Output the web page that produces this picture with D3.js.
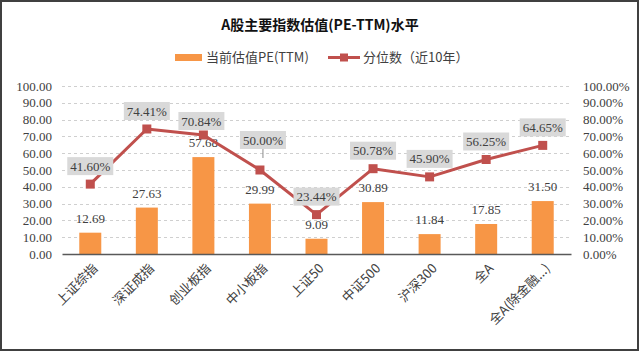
<!DOCTYPE html>
<html>
<head>
<meta charset="utf-8">
<script src="https://cdn.jsdelivr.net/npm/d3@7"></script>
<style>
  body { margin: 0; background: #fff; }
  svg { display: block; }
</style>
</head>
<body>
<div id="container"></div>
<script>
// data
let categories = ['上证综指', '深证成指', '创业板指', '中小板指', '上证50', '中证500', '沪深300', '全A', '全A(除金融...)'];
let peValues = [12.69, 27.63, 57.68, 29.99, 9.09, 30.89, 11.84, 17.85, 31.50];
let pctValues = [41.60, 74.41, 70.84, 50.00, 23.44, 50.78, 45.90, 56.25, 64.65];
let yTicks = [0, 10, 20, 30, 40, 50, 60, 70, 80, 90, 100];

// small nudges for the percent labels (how the original lays them out)
let pctLabelDy = [-18, -18, -14, -30, -18, -18, -18, -18, -18];
let pctLabelDx = [0, 0, -2, 3, 0, 0, 0, 0, 0];

let w = 640;
let h = 352;
let plotLeft = 62, plotRight = 571, plotTop = 86, plotBottom = 254;

let BAR = '#f79646';
let LINE = '#c0504d';
let NUMFONT = '"Liberation Serif", serif';
let CJKFONT = '"Noto Sans CJK SC", sans-serif';

let viz = d3.select('#container')
    .append('svg')
    .attr('width', w)
    .attr('height', h);

viz.append('rect')
    .attr('x', 1).attr('y', 1)
    .attr('width', w - 3).attr('height', h - 3)
    .attr('fill', '#fff')
    .attr('stroke', '#404040')
    .attr('stroke-width', 2);

// title
viz.append('text')
    .attr('x', 320).attr('y', 30)
    .attr('text-anchor', 'middle')
    .attr('font-family', CJKFONT)
    .attr('font-weight', 'bold')
    .attr('font-size', 14)
    .attr('fill', '#111')
    .text('A股主要指数估值(PE-TTM)水平');

// legend
let legend = viz.append('g');
legend.append('rect').attr('x', 175).attr('y', 54).attr('width', 27).attr('height', 7).attr('fill', BAR);
legend.append('text').attr('x', 206).attr('y', 62)
    .attr('font-family', CJKFONT).attr('font-size', 13).attr('fill', '#404040')
    .text('当前估值PE(TTM)');
legend.append('line').attr('x1', 328).attr('x2', 360).attr('y1', 57.5).attr('y2', 57.5)
    .attr('stroke', LINE).attr('stroke-width', 3);
legend.append('rect').attr('x', 340).attr('y', 53.5).attr('width', 8).attr('height', 8).attr('fill', LINE);
legend.append('text').attr('x', 363).attr('y', 62)
    .attr('font-family', CJKFONT).attr('font-size', 13).attr('fill', '#404040')
    .text('分位数（近10年）');

// scales
let xScale = d3.scaleBand()
    .domain(categories)
    .range([plotLeft, plotRight]);
let yLeft = d3.scaleLinear().domain([0, 100]).range([plotBottom, plotTop]);
let yRight = d3.scaleLinear().domain([0, 100]).range([plotBottom, plotTop]);
let cx = d => xScale(d) + xScale.bandwidth() / 2;

// grid
viz.append('g').selectAll('line')
    .data(yTicks.filter(t => t > 0))
    .join('line')
    .attr('x1', plotLeft).attr('x2', plotRight)
    .attr('y1', d => Math.round(yLeft(d)) + 0.5)
    .attr('y2', d => Math.round(yLeft(d)) + 0.5)
    .attr('stroke', '#cfcfcf')
    .attr('stroke-dasharray', '3,3');

// left axis
let leftAxis = viz.append('g')
    .attr('transform', `translate(${plotLeft},0)`)
    .call(d3.axisLeft(yLeft).tickValues(yTicks).tickFormat(d3.format('.2f')).tickSize(0).tickPadding(10));
leftAxis.select('.domain').remove();
leftAxis.selectAll('text').attr('font-family', NUMFONT).attr('font-size', 13).attr('fill', '#404040');

// right axis
let rightAxis = viz.append('g')
    .attr('transform', `translate(${plotRight},0)`)
    .call(d3.axisRight(yRight).tickValues(yTicks).tickFormat(d => d3.format('.2f')(d) + '%').tickSize(0).tickPadding(12));
rightAxis.select('.domain').remove();
rightAxis.selectAll('text').attr('font-family', NUMFONT).attr('font-size', 13).attr('fill', '#404040');

// bars
let barW = 22;
viz.append('g').selectAll('rect')
    .data(categories)
    .join('rect')
    .attr('x', d => cx(d) - barW / 2)
    .attr('width', barW)
    .attr('y', (d, i) => yLeft(peValues[i]))
    .attr('height', (d, i) => plotBottom - yLeft(peValues[i]))
    .attr('fill', BAR);

// bar labels
viz.append('g').selectAll('text')
    .data(categories)
    .join('text')
    .attr('x', d => cx(d))
    .attr('y', (d, i) => yLeft(peValues[i]) - 10)
    .attr('text-anchor', 'middle')
    .attr('font-family', NUMFONT).attr('font-size', 13).attr('fill', '#404040')
    .text((d, i) => d3.format('.2f')(peValues[i]));

// x axis line
let xAxisGroup = viz.append('g').attr('transform', `translate(0,${plotBottom})`);
xAxisGroup.call(d3.axisBottom(xScale).tickSize(0).tickFormat(''));
xAxisGroup.select('.domain').attr('stroke', '#595959').attr('stroke-width', 1.5);
xAxisGroup.selectAll('.tick text').remove();

// category labels, rotated
viz.append('g').selectAll('text')
    .data(categories)
    .join('text')
    .attr('transform', d => `translate(${cx(d) + 5},${plotBottom + 12}) rotate(-45)`)
    .attr('text-anchor', 'end')
    .attr('dy', '0.35em')
    .attr('font-family', CJKFONT).attr('font-size', 13).attr('fill', '#404040')
    .text(d => d);

// percentile line
let line = d3.line()
    .x(d => cx(d))
    .y((d, i) => yRight(pctValues[i]));
viz.append('path')
    .datum(categories)
    .attr('d', line)
    .attr('fill', 'none')
    .attr('stroke', LINE)
    .attr('stroke-width', 3)
    .attr('stroke-linejoin', 'round');

// percent labels
let labels = viz.append('g').selectAll('g')
    .data(categories)
    .join('g')
    .attr('transform', (d, i) => `translate(${cx(d) + pctLabelDx[i]},${yRight(pctValues[i]) + pctLabelDy[i]})`);

// leader line for labels sitting far from the point
labels.filter((d, i) => pctLabelDy[i] < -20)
    .append('line')
    .attr('x1', 0).attr('y1', 8)
    .attr('x2', (d, i) => -pctLabelDx[i])
    .attr('y2', (d, i) => -pctLabelDy[i])
    .attr('stroke', '#8c8c8c');

labels.append('rect')
    .attr('x', -23).attr('y', -9)
    .attr('width', 46).attr('height', 18)
    .attr('fill', '#d9d9d9');
labels.append('text')
    .attr('text-anchor', 'middle')
    .attr('dy', '0.35em')
    .attr('font-family', NUMFONT).attr('font-size', 13).attr('fill', '#404040')
    .text((d, i) => d3.format('.2f')(pctValues[i]) + '%');

// markers
viz.append('g').selectAll('rect')
    .data(categories)
    .join('rect')
    .attr('x', d => cx(d) - 4.5)
    .attr('y', (d, i) => yRight(pctValues[i]) - 4.5)
    .attr('width', 9).attr('height', 9)
    .attr('fill', LINE);
</script>
</body>
</html>
